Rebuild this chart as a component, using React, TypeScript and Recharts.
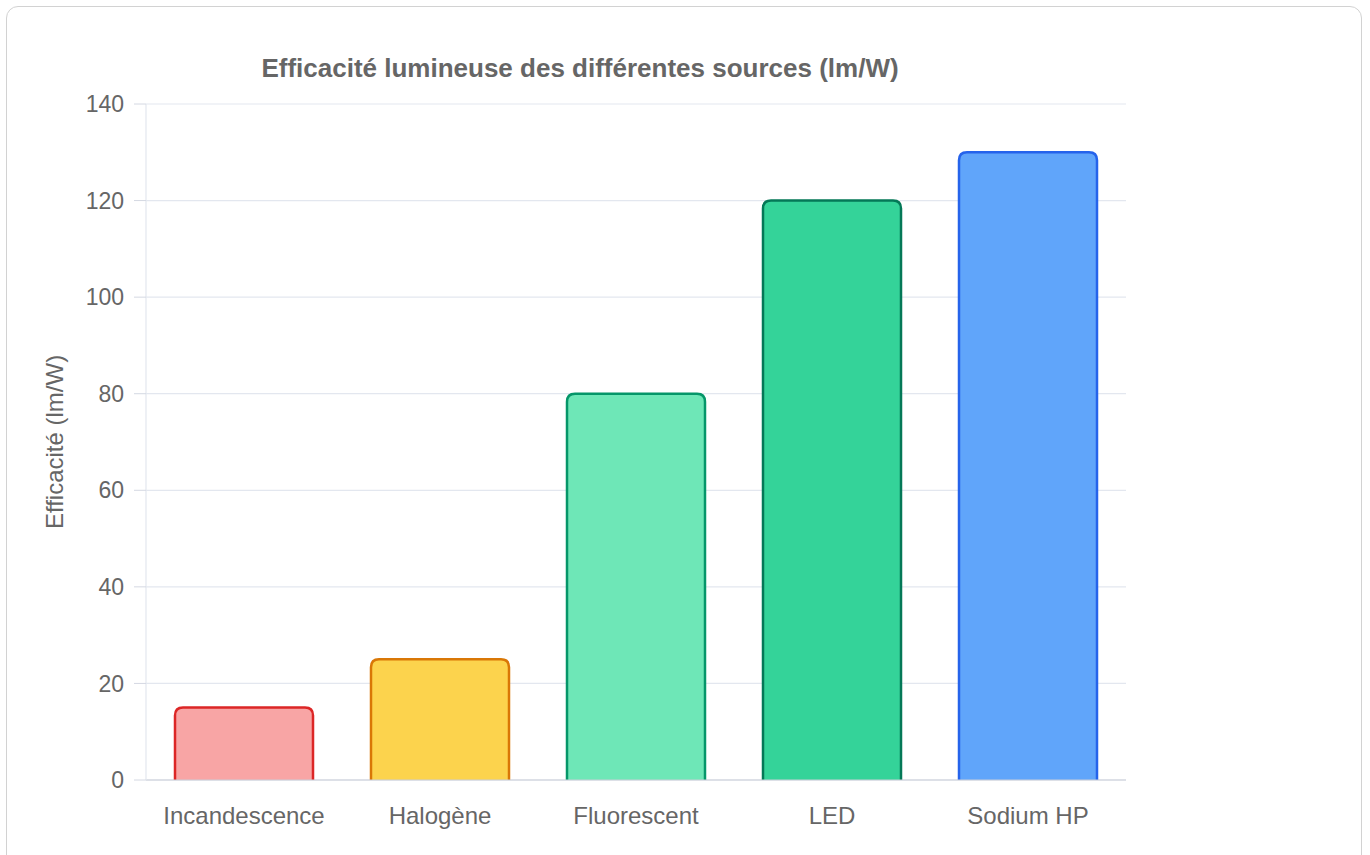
import { BarChart, Bar, XAxis, YAxis, CartesianGrid, Cell, Label } from "recharts";

const sources = ["Incandescence", "Halogène", "Fluorescent", "LED", "Sodium HP"];
const efficacite = [15, 25, 80, 120, 130];
const yTicks = [0, 20, 40, 60, 80, 100, 120, 140];
const fills = ["#f8a5a5", "#fcd34d", "#6ee7b7", "#34d399", "#60a5fa"];
const borders = ["#dc2626", "#d97706", "#059669", "#047857", "#2563eb"];

const data = sources.map((name, i) => ({ name, value: efficacite[i] }));

const FONT = "'Liberation Sans', Arial, sans-serif";

// bar with rounded top corners, no border on the baseline (like chart.js borderSkipped)
function RoundedBar(props: any) {
  const { x, y, width, height, index } = props;
  const r = Math.min(8, height / 2, width / 2);
  const b = y + height;
  const outline = `M${x},${b} L${x},${y + r} Q${x},${y} ${x + r},${y} L${x + width - r},${y} Q${x + width},${y} ${x + width},${y + r} L${x + width},${b}`;
  return (
    <g>
      <path d={outline + " Z"} fill={fills[index]} stroke="none" />
      <path d={outline} fill="none" stroke={borders[index]} strokeWidth={2.5} />
    </g>
  );
}

export default function App() {
  return (
    <div style={{ position: "absolute", left: 0, top: 0, width: 1370, height: 855, overflow: "hidden", background: "#fff" }}>
      <div
        style={{
          position: "absolute",
          left: 6,
          top: 6,
          width: 1356,
          height: 920,
          border: "1.5px solid #d2d2d2",
          borderRadius: 12,
          boxSizing: "border-box",
        }}
      />
      <div
        style={{
          position: "absolute",
          left: 0,
          width: 1160,
          top: 53,
          textAlign: "center",
          fontFamily: FONT,
          fontWeight: "bold",
          fontSize: 26,
          color: "#666",
        }}
      >
        Efficacité lumineuse des différentes sources (lm/W)
      </div>
      <div style={{ position: "absolute", left: 0, top: 0 }}>
        <BarChart
          width={1370}
          height={855}
          data={data}
          margin={{ top: 104, right: 244, bottom: 0, left: 0 }}
        >
          <CartesianGrid vertical={false} stroke="#e3e7ef" strokeWidth={1.2} />
          <XAxis
            dataKey="name"
            height={75}
            tickLine={false}
            tickSize={0}
            tickMargin={27}
            axisLine={{ stroke: "#c9cdd8", strokeWidth: 1.2 }}
            tick={{ fill: "#666", fontSize: 24, fontFamily: FONT }}
          />
          <YAxis
            width={146}
            domain={[0, 140]}
            ticks={yTicks}
            interval={0}
            tickSize={12}
            tickMargin={10}
            tickLine={{ stroke: "#d4d8e2" }}
            axisLine={{ stroke: "#e3e7ef", strokeWidth: 1.2 }}
            tick={{ fill: "#666", fontSize: 23, fontFamily: FONT }}
          >
            <Label
              value="Efficacité (lm/W)"
              angle={-90}
              position="insideLeft"
              offset={54}
              style={{ fill: "#666", fontSize: 24, fontFamily: FONT, textAnchor: "middle" }}
            />
          </YAxis>
          <Bar dataKey="value" barSize={138} isAnimationActive={false} shape={<RoundedBar />}>
            {data.map((d, i) => (
              <Cell key={d.name} fill={fills[i]} />
            ))}
          </Bar>
        </BarChart>
      </div>
    </div>
  );
}
